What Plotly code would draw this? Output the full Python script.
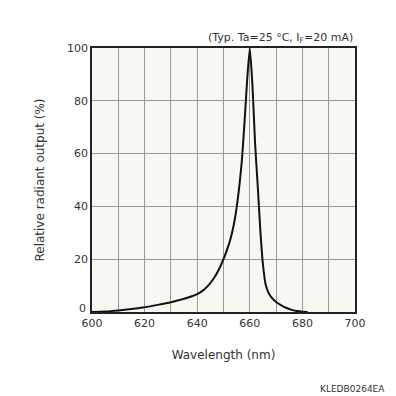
import plotly.graph_objects as go

wavelength = [600, 605, 610, 615, 620, 625, 630, 635, 640, 642, 644, 646, 648, 650,
              652, 653, 654, 655, 656, 657, 658, 659, 660, 661, 662, 663, 664, 665,
              666, 667, 668, 670, 672, 674, 676, 678, 680, 682]
output = [0, 0.2, 0.6, 1.1, 1.8, 2.7, 3.7, 5.0, 6.8, 8.0, 9.8, 12.3, 15.6, 20.0,
          25.5, 29.0, 33.5, 39.5, 47.5, 57.5, 72.0, 88.0, 100.0, 86.0, 64.0, 48.0, 31.0, 18.0,
          10.5, 7.5, 5.8, 3.8, 2.5, 1.5, 0.8, 0.35, 0.1, 0]

x_ticks = [600, 620, 640, 660, 680, 700]
y_ticks = [0, 20, 40, 60, 80, 100]

FONT = "DejaVu Sans"

fig = go.Figure()
fig.add_trace(go.Scatter(
    x=wavelength, y=output, mode="lines",
    line=dict(color="#111111", width=2, shape="spline", smoothing=0.5),
    hoverinfo="skip", showlegend=False,
))

fig.update_layout(
    width=388, height=388,
    margin=dict(l=84, r=41, t=40, b=84),
    paper_bgcolor="white",
    plot_bgcolor="#f8f7f1",
    font=dict(family=FONT, size=11, color="#333333"),
    xaxis=dict(
        range=[600, 700], tickvals=x_ticks, ticktext=[str(v) for v in x_ticks],
        showgrid=True, gridcolor="#9a9a94", gridwidth=1,
        minor=dict(dtick=10, showgrid=True, gridcolor="#9a9a94", gridwidth=1),
        zeroline=False, showline=True, linecolor="#222222", linewidth=1.5, mirror=True,
        ticks="", ticklen=0,
        title=dict(text="Wavelength (nm)", font=dict(size=12, color="#333333"), standoff=22),
    ),
    yaxis=dict(
        range=[0, 100], tickvals=y_ticks,
        ticktext=["" if v == 0 else str(v) for v in y_ticks],
        showgrid=True, gridcolor="#9a9a94", gridwidth=1,
        zeroline=False, showline=True, linecolor="#222222", linewidth=1.5, mirror=True,
        ticks="", ticklen=0,
        title=dict(text="Relative radiant output (%)", font=dict(size=12, color="#333333"), standoff=20),
    ),
    annotations=[
        dict(text=str(y_ticks[0]), xref="paper", yref="y", x=0, y=y_ticks[0],
             xanchor="right", yanchor="middle", xshift=-4, yshift=4, showarrow=False,
             font=dict(size=11, color="#333333")),
        dict(text="(Typ. Ta=25 °C, I<sub>F</sub>=20 mA)", xref="paper", yref="paper",
             x=1, y=1, xanchor="right", yanchor="bottom", yshift=1, showarrow=False,
             font=dict(size=11, color="#333333")),
        dict(text="KLEDB0264EA", xref="paper", yref="paper",
             x=1.12, y=-0.292, xanchor="right", yanchor="middle", showarrow=False,
             font=dict(size=9, color="#333333")),
    ],
)

fig.write_html("out.html")
